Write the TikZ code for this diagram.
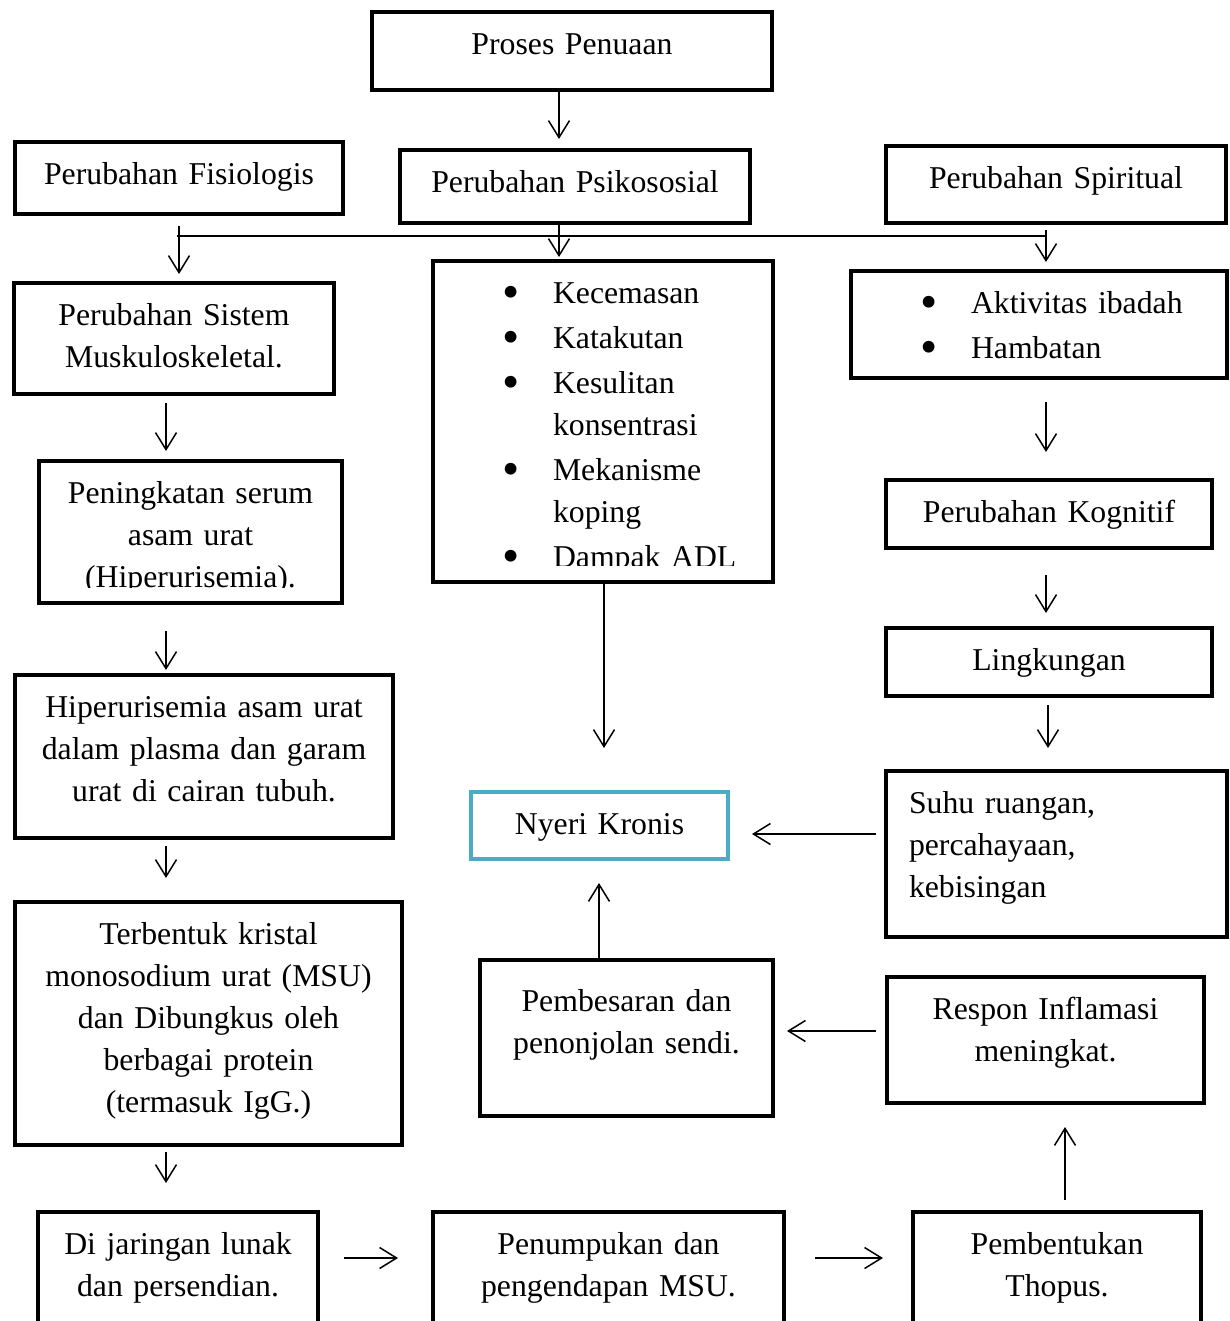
\documentclass[tikz,border=0pt]{standalone}
\usepackage{fontspec}
\setmainfont{Liberation Serif}
\usetikzlibrary{arrows.meta}
\definecolor{biruNyeri}{RGB}{75,172,198}
\newcommand{\butir}[1]{\hspace*{27.6pt}\makebox[20.4pt][l]{\raisebox{-2.3pt}{\scalebox{1.55}{\textbullet}}}#1}
\newcommand{\lanjut}[1]{\hspace*{48pt}#1}
\tikzset{
  kotak/.style={draw, line width=1.6pt, rectangle, inner sep=0pt, anchor=north west, align=center,
    text height=16.8pt, font={\fontsize{12.7pt}{16.8pt}\selectfont}},
  panah/.style={line width=0.6pt, -{Straight Barb[length=6.8pt,width=8.4pt]}},
  garis/.style={line width=0.6pt}
}
\begin{document}
\begin{tikzpicture}[x=0.4pt, y=-0.4pt]
\useasboundingbox (0,0) rectangle (1229,1321);
\clip (0,0) rectangle (1229,1321);
\node[kotak, minimum width=160pt, text width=150pt, text depth=14.4pt] (penuaan) at (370,10) {Proses Penuaan};
\node[kotak, minimum width=131.2pt, text width=121pt, text depth=12pt] (fisio) at (13,140) {Perubahan Fisiologis};
\node[kotak, minimum width=140pt, text width=130pt, text depth=12.4pt] (psiko) at (398,148) {Perubahan Psikososial};
\node[kotak, minimum width=136pt, text width=126pt, text depth=14pt] (spiritual) at (884,144) {Perubahan Spiritual};
\node[kotak, minimum width=128pt, text width=118pt, text depth=27.6pt] (sistem) at (12,281) {Perubahan Sistem\\Muskuloskeletal.};
\node[kotak, align=left, minimum width=136pt, text width=136pt, text depth=111.6pt] (daftarPsiko) at (431,259)
  {\butir{Kecemasan}\\[1.2pt]\butir{Katakutan}\\[1.2pt]\butir{Kesulitan}\\\lanjut{konsentrasi}\\[1.2pt]\butir{Mekanisme}\\\lanjut{koping}\\[1.2pt]\butir{Dampak ADL}};
\node[kotak, align=left, minimum width=150.4pt, text width=150.4pt, text depth=26pt] (daftarSpirit) at (849,269)
  {\butir{Aktivitas ibadah}\\[1.2pt]\butir{Hambatan}};
\node[kotak, minimum width=121.2pt, text width=111pt, text depth=40pt] (serum) at (37,459) {Peningkatan serum\\asam urat\\(Hiperurisemia).};
\node[kotak, minimum width=130.4pt, text width=120pt, text depth=10.4pt] (kognitif) at (884,478) {Perubahan Kognitif};
\node[kotak, minimum width=130.4pt, text width=120pt, text depth=10.4pt] (lingkungan) at (884,626) {Lingkungan};
\node[kotak, minimum width=151.2pt, text width=141pt, text depth=48.4pt] (plasma) at (13,673) {Hiperurisemia asam urat\\dalam plasma dan garam\\urat di cairan tubuh.};
\node[kotak, draw=biruNyeri, minimum width=102.8pt, text width=95pt, text depth=10pt] (nyeri) at (469,790) {Nyeri Kronis};
\node[kotak, align=left, minimum width=136.4pt, text width=118pt, text depth=49.6pt] (suhu) at (884,769) {Suhu ruangan,\\percahayaan,\\kebisingan};
\node[kotak, minimum width=154.8pt, text width=145pt, text depth=80.4pt] (kristal) at (13,900) {Terbentuk kristal\\monosodium urat (MSU)\\dan Dibungkus oleh\\berbagai protein\\(termasuk IgG.)};
\node[kotak, minimum width=117.2pt, text width=107pt, text height=20.4pt, text depth=42pt] (pembesaran) at (478,958) {Pembesaran dan\\penonjolan sendi.};
\node[kotak, minimum width=126.8pt, text width=117pt, text depth=33.6pt] (respon) at (885,975) {Respon Inflamasi\\meningkat.};
\node[kotak, minimum width=112pt, text width=102pt, text depth=35.2pt] (jaringan) at (36,1210) {Di jaringan lunak\\dan persendian.};
\node[kotak, minimum width=140.4pt, text width=130pt, text depth=35.2pt] (penumpukan) at (431,1210) {Penumpukan dan\\pengendapan MSU.};
\node[kotak, minimum width=115.2pt, text width=105pt, text depth=35.2pt] (thopus) at (911,1210) {Pembentukan\\Thopus.};
\fill[white] (436,566) rectangle (766,577);
\fill[white] (42,588) rectangle (335,598);
\coordinate (cabangKiri) at (177,236);
\coordinate (cabangKanan) at (1046,236);
\draw[panah, shorten >=3.6pt] (559,0 |- penuaan.south) -- (559,0 |- psiko.north);
\draw[garis] (cabangKiri) -- (cabangKanan);
\draw[panah, shorten <=4pt, shorten >=2.8pt] (fisio.south) -- (fisio.south |- sistem.north);
\draw[panah, shorten >=0.8pt] (559,0 |- psiko.south) -- (559,0 |- daftarPsiko.north);
\draw[panah, shorten <=2pt, shorten >=2.8pt] (1046,0 |- spiritual.south) -- (1046,0 |- daftarSpirit.north);
\draw[panah, shorten <=2.8pt, shorten >=3.2pt] (166,0 |- sistem.south) -- (166,0 |- serum.north);
\draw[panah, shorten <=10.4pt, shorten >=1.2pt] (166,0 |- serum.south) -- (166,0 |- plasma.north);
\draw[panah, shorten <=2.4pt, shorten >=8.8pt] (166,0 |- plasma.south) -- (166,0 |- kristal.north);
\draw[panah, shorten <=2pt, shorten >=10.8pt] (166,0 |- kristal.south) -- (166,0 |- jaringan.north);
\draw[panah, shorten <=9.6pt, shorten >=13.2pt] (jaringan.east |- 0,1258) -- (penumpukan.west |- 0,1258);
\draw[panah, shorten <=11.6pt, shorten >=11.2pt] (penumpukan.east |- 0,1258) -- (thopus.west |- 0,1258);
\draw[panah, shorten <=4pt, shorten >=8.8pt] (1065,0 |- thopus.north) -- (1065,0 |- respon.south);
\draw[panah, shorten <=3.6pt, shorten >=4.8pt] (respon.west |- 0,1031) -- (pembesaran.east |- 0,1031);
\draw[panah, shorten >=8.8pt] (599,0 |- pembesaran.north) -- (599,0 |- nyeri.south);
\draw[panah, shorten >=16.8pt] (604,0 |- daftarPsiko.south) -- (604,0 |- nyeri.north);
\draw[panah, shorten <=3.2pt, shorten >=8.8pt] (suhu.west |- 0,834) -- (nyeri.east |- 0,834);
\draw[panah, shorten <=8.8pt, shorten >=10.4pt] (1046,0 |- daftarSpirit.south) -- (1046,0 |- kognitif.north);
\draw[panah, shorten <=10pt, shorten >=5.2pt] (1046,0 |- kognitif.south) -- (1046,0 |- lingkungan.north);
\draw[panah, shorten <=2.8pt, shorten >=8.4pt] (1048,0 |- lingkungan.south) -- (1048,0 |- suhu.north);
\end{tikzpicture}
\end{document}
